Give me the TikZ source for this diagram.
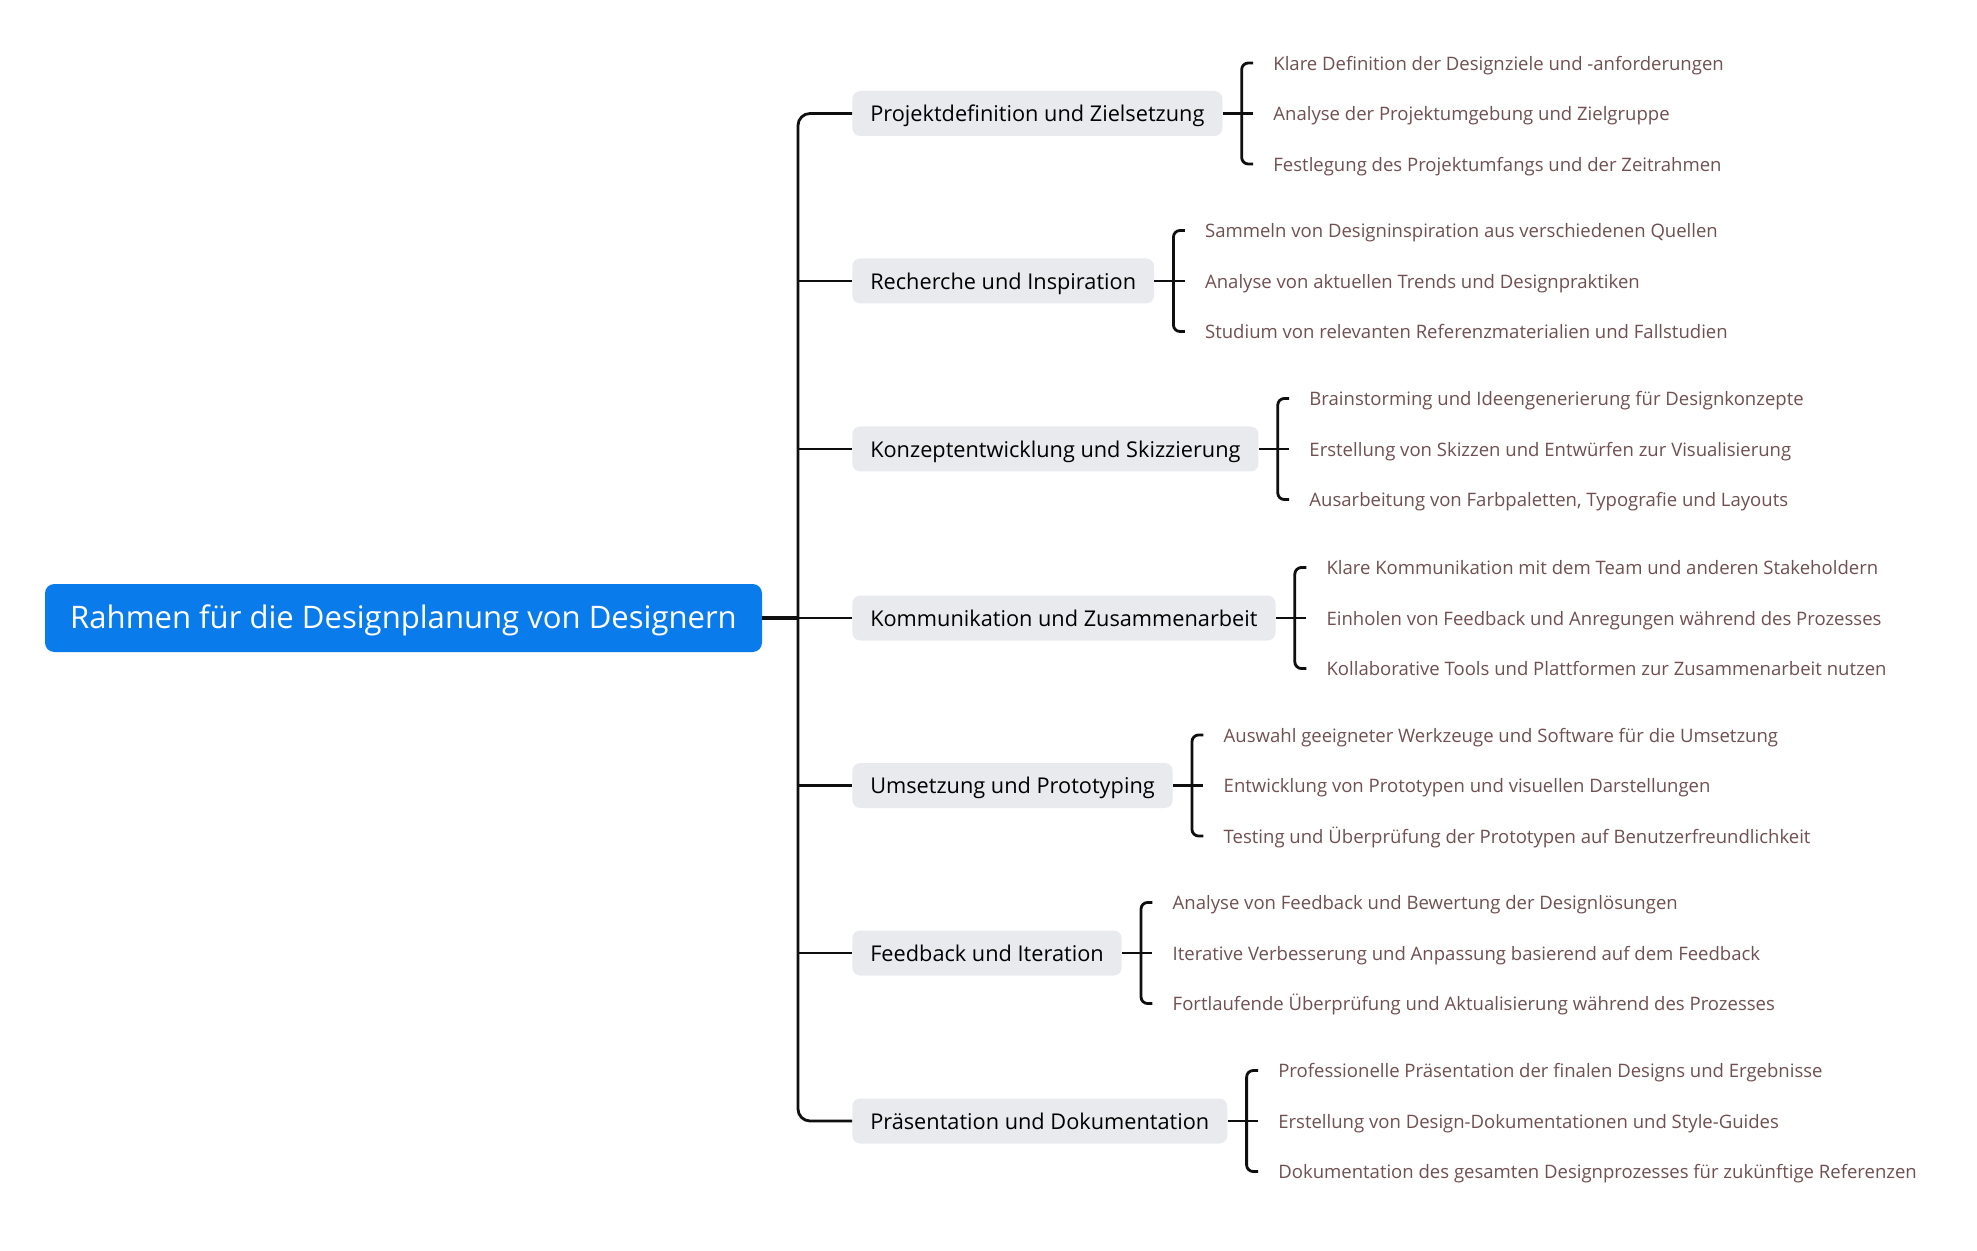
\documentclass[tikz,border=0pt]{standalone}
\usepackage{fontspec}
\setmainfont{Open Sans}
\definecolor{rootblue}{RGB}{10,123,235}
\definecolor{branchgray}{RGB}{232,234,237}
\definecolor{leafbrown}{RGB}{112,80,80}
\definecolor{linecol}{RGB}{15,15,15}
\newcommand\mmbranch[6]{%
  \node[branchbox,anchor=west] (b#1) at (852,#2) {#3};
  \coordinate (k#1) at ([xshift=14.25pt]b#1.east);
  \node[leaf,anchor=west] (l#1a) at ([xshift=23.6pt,yshift=37.9pt]k#1) {#4};
  \node[leaf,anchor=west] (l#1b) at ([xshift=23.6pt]k#1) {#5};
  \node[leaf,anchor=west] (l#1c) at ([xshift=23.6pt,yshift=-37.9pt]k#1) {#6};
  \draw[conn] (b#1.east) -- ([xshift=-15pt]l#1b.west);
  \draw[conn,rounded corners=5pt] ([xshift=-15pt]l#1a.west) -| (k#1) |- ([xshift=-15pt]l#1c.west);
}
\begin{document}
\begin{tikzpicture}[x=0.75pt,y=-0.75pt,
  rootbox/.style={rectangle,rounded corners=7pt,fill=rootblue,text=white,
    minimum width=537.75pt,minimum height=51pt,inner sep=0pt,
    text height=21.4pt,text depth=5.6pt,
    font=\fontsize{23.3}{27}\selectfont},
  branchbox/.style={rectangle,rounded corners=6pt,fill=branchgray,text=black,
    minimum height=33.75pt,inner xsep=13.5pt,inner ysep=0pt,
    text height=16.3pt,text depth=3.9pt,
    font=\fontsize{16.3}{19}\selectfont},
  leaf/.style={inner sep=0pt,text=leafbrown,text height=14.3pt,text depth=3.3pt,
    font=\fontsize{13.9}{16}\selectfont},
  conn/.style={draw=linecol,line width=2.1pt},
  rootconn/.style={draw=linecol,line width=3.2pt}]
\useasboundingbox[fill=white] (0,0) rectangle (1977,1251);
\node[rootbox] (root) at (403.5,618) {Rahmen für die Designplanung von Designern};
\coordinate (t) at (798,618);
\mmbranch{1}{113.5}{Projektdefinition und Zielsetzung}{Klare Definition der Designziele und -anforderungen}{Analyse der Projektumgebung und Zielgruppe}{Festlegung des Projektumfangs und der Zeitrahmen}
\mmbranch{2}{281}{Recherche und Inspiration}{Sammeln von Designinspiration aus verschiedenen Quellen}{Analyse von aktuellen Trends und Designpraktiken}{Studium von relevanten Referenzmaterialien und Fallstudien}
\mmbranch{3}{449}{Konzeptentwicklung und Skizzierung}{Brainstorming und Ideengenerierung für Designkonzepte}{Erstellung von Skizzen und Entwürfen zur Visualisierung}{Ausarbeitung von Farbpaletten, Typografie und Layouts}
\mmbranch{4}{618}{Kommunikation und Zusammenarbeit}{Klare Kommunikation mit dem Team und anderen Stakeholdern}{Einholen von Feedback und Anregungen während des Prozesses}{Kollaborative Tools und Plattformen zur Zusammenarbeit nutzen}
\mmbranch{5}{785.5}{Umsetzung und Prototyping}{Auswahl geeigneter Werkzeuge und Software für die Umsetzung}{Entwicklung von Prototypen und visuellen Darstellungen}{Testing und Überprüfung der Prototypen auf Benutzerfreundlichkeit}
\mmbranch{6}{953}{Feedback und Iteration}{Analyse von Feedback und Bewertung der Designlösungen}{Iterative Verbesserung und Anpassung basierend auf dem Feedback}{Fortlaufende Überprüfung und Aktualisierung während des Prozesses}
\mmbranch{7}{1121}{Präsentation und Dokumentation}{Professionelle Präsentation der finalen Designs und Ergebnisse}{Erstellung von Design-Dokumentationen und Style-Guides}{Dokumentation des gesamten Designprozesses für zukünftige Referenzen}
\draw[conn,rounded corners=9pt] (b1.west) -| (t) |- (b7.west);
\foreach \i in {2,3,4,5,6}{\draw[conn] (t |- b\i.west) -- (b\i.west);}
\draw[rootconn] (root.east) -- (t);
\end{tikzpicture}
\end{document}
